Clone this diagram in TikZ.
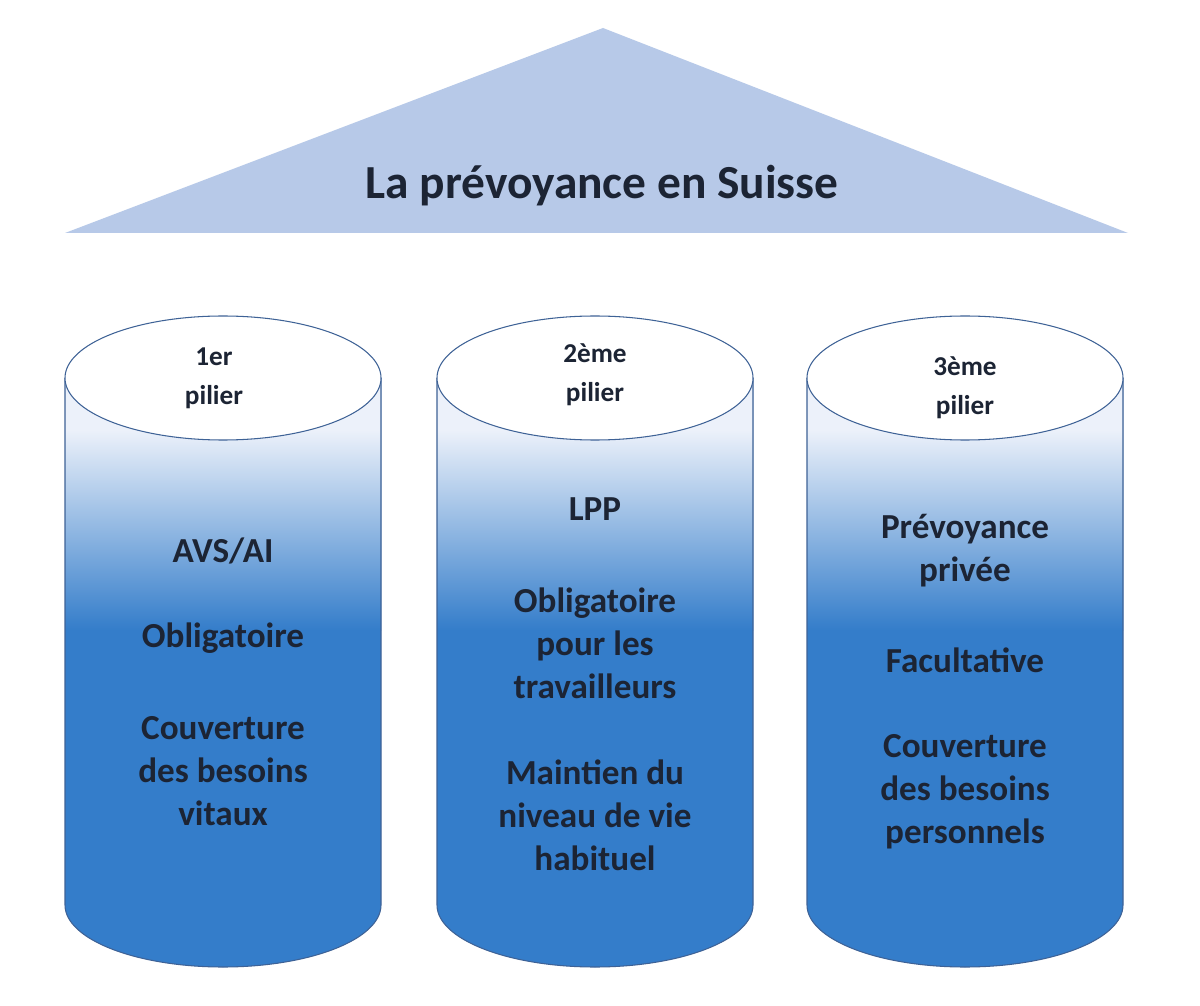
\documentclass[tikz,border=0pt]{standalone}
\usepackage{fontspec}
\setmainfont{Carlito}
\definecolor{roof}{RGB}{183,201,232}
\definecolor{pillarblue}{RGB}{52,125,202}
\definecolor{pillarlight}{RGB}{236,241,250}
\definecolor{rim}{RGB}{62,98,150}
\definecolor{ink}{RGB}{28,36,52}
\tikzset{
  label text/.style={font=\bfseries\fontsize{20}{24.4}\selectfont,text=ink,align=center,inner sep=0pt},
  cap text/.style={font=\bfseries\fontsize{15.5}{22}\selectfont,text=ink,align=center,inner sep=0pt},
}
\newcommand{\pillar}[1]{%
  \begin{scope}
    \clip (#1-158,378) -- (#1-158,905) arc[start angle=180,end angle=0,x radius=158,y radius=62]
      -- (#1+158,378) -- cycle;
    \fill[pillarblue] (#1-160,300) rectangle (#1+160,980);
    \shade[top color=pillarlight,bottom color=pillarblue] (#1-160,430) rectangle (#1+160,630);
    \fill[pillarlight] (#1-160,300) rectangle (#1+160,431);
  \end{scope}
  \draw[draw=rim,line width=0.6pt]
    (#1-158,378) -- (#1-158,905) arc[start angle=180,end angle=0,x radius=158,y radius=62]
    -- (#1+158,378);
  \draw[fill=white,draw=rim,line width=0.6pt] (#1,378) ellipse[x radius=158,y radius=62];
}
\begin{document}
\begin{tikzpicture}[x=0.02cm,y=-0.02cm]
  \useasboundingbox[fill=white] (0,0) rectangle (1200,1006);
  % roof
  \fill[roof] (65,233) -- (603,28) -- (1128,233) -- cycle;
  \node[label text,font=\bfseries\fontsize{27}{30}\selectfont] (title) at (602,186) {La prévoyance en Suisse};
  % pillars
  \pillar{223}
  \pillar{595}
  \pillar{965}
  \node[cap text] (cap1) at (214,378) {1er\\pilier};
  \node[cap text] (cap2) at (595,375) {2ème\\pilier};
  \node[cap text] (cap3) at (965,388) {3ème\\pilier};
  % first pillar
  \node[label text] (avs) at (223,551) {AVS/AI};
  \node[label text] (oblig1) at (223,638) {Obligatoire};
  \node[label text] (besoins1) at (223,771) {Couverture\\des besoins\\vitaux};
  % second pillar
  \node[label text] (lpp) at (595,509) {LPP};
  \node[label text] (oblig2) at (595,643) {Obligatoire\\pour les\\travailleurs};
  \node[label text] (niveau) at (595,815) {Maintien du\\niveau de vie\\habituel};
  % third pillar
  \node[label text] (privee) at (965,551) {Prévoyance\\privée};
  \node[label text] (facult) at (965,660) {Facultative};
  \node[label text] (besoins3) at (965,792) {Couverture\\des besoins\\personnels};
\end{tikzpicture}
\end{document}
